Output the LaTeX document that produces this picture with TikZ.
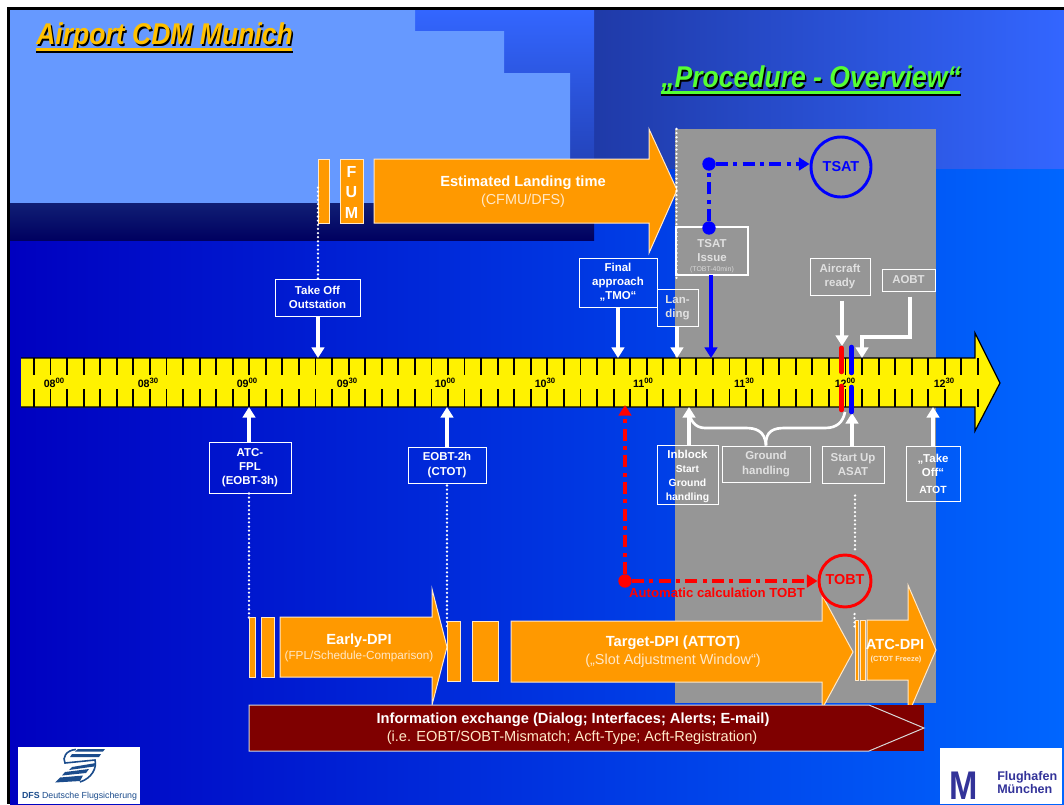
\documentclass[tikz,border=0pt]{standalone}
\usepackage{fontspec}
\setmainfont{Liberation Sans}
\usetikzlibrary{arrows.meta}
\usetikzlibrary{calc}
\definecolor{lightsky}{HTML}{6699FF}
\definecolor{midblue}{HTML}{3366FF}
\definecolor{duskblue}{HTML}{1F3AA8}
\definecolor{bandtop}{HTML}{101F75}
\definecolor{bandbottom}{HTML}{000060}
\definecolor{bgleft}{HTML}{0000C0}
\definecolor{bgright}{HTML}{0066FF}
\definecolor{orangedpi}{HTML}{FF9900}
\definecolor{palecream}{HTML}{FFE8C8}
\definecolor{panelgrey}{HTML}{969696}
\definecolor{infored}{HTML}{7F0000}
\definecolor{titlegold}{HTML}{FFC000}
\definecolor{titlegreen}{HTML}{55FF33}
\definecolor{dfsblue}{HTML}{1B4C8C}
\definecolor{mucblue}{HTML}{333399}
\newcommand{\hourmark}[2]{#1\raisebox{2.8pt}{\fontsize{5.8}{6}\selectfont #2}}
\newcommand{\titletext}[1]{\scalebox{0.885}[1]{#1}}
\begin{document}
\begin{tikzpicture}[x=0.75pt,y=-0.75pt,>={Triangle[length=8pt,width=9.5pt]}]
\tikzstyle{wh} = [minimum width=#1*0.75pt]
\tikzstyle{ht} = [minimum height=#1*0.75pt]
\tikzstyle{tagbox} = [draw=white,line width=0.75pt,align=center,text=white,inner sep=0pt,font=\bfseries\fontsize{8.6}{10.6}\selectfont]
\tikzstyle{greytext} = [text=white!88!black]
\tikzstyle{oarrow} = [fill=orangedpi,draw=palecream,line width=0.75pt]
\tikzstyle{obar} = [oarrow]
\tikzstyle{bigtext} = [text=white,inner sep=0pt,align=center,font=\bfseries\fontsize{11}{13}\selectfont]
\tikzstyle{subtext} = [text=palecream,inner sep=0pt,align=center,font=\fontsize{10.8}{13}\selectfont]
\tikzstyle{titlefont} = [anchor=west,inner sep=0pt,font=\bfseries\itshape\fontsize{22.5}{26}\selectfont]
\tikzstyle{wline} = [white,line width=2.4pt]
\tikzstyle{warrow} = [wline,->]
\tikzstyle{dots} = [white,line width=1.9pt,line cap=round,dash pattern=on 0pt off 3.1pt]
\tikzstyle{dashdot} = [line width=2.6pt,dash pattern=on 9pt off 4pt on 3pt off 4pt]
\tikzstyle{spot} = [circle,fill,minimum size=10pt,inner sep=0pt]
\tikzstyle{ring} = [draw,circle,line width=2.2pt,inner sep=0pt,font=\bfseries\fontsize{10.8}{12}\selectfont]
\tikzstyle{rule} = [black,line width=1.4pt]
\tikzstyle{stripe} = [red,line width=3.4pt,line cap=round]

\fill[white] (0,0) rectangle (1064,804);
\fill[black] (7,7) rectangle (1064,804);
\shade[left color=bgleft,right color=bgright] (10,10) rectangle (1064,804);
\shade[left color=duskblue,right color=midblue] (594,10) rectangle (1064,168);
\shade[top color=midblue,bottom color=duskblue] (415,10) rectangle (594,203);
\fill[lightsky] (10,10) -- (415,10) -- (415,31) -- (504,31) -- (504,73) -- (570,73) -- (570,203) -- (10,203) -- cycle;
\shade[top color=bandtop,bottom color=bandbottom] (10,203) rectangle (594,240);
\fill[panelgrey] (675,129) rectangle (936,703);

\draw(37.5,38.5) node[titlefont,black] (titleshadow) {\titletext{Airport CDM Munich}};
\draw(36,37) node[titlefont,titlegold] (titlecdm) {\titletext{Airport CDM Munich}};
\fill[black] (36,51) rectangle (293,52.5);
\fill[titlegold] (36,48) rectangle (292,51);
\draw(662.5,80.5) node[titlefont,black] (procshadow) {\titletext{„Procedure - Overview“}};
\draw(661,79) node[titlefont,titlegreen] (titleproc) {\titletext{„Procedure - Overview“}};
\fill[black] (661,94) rectangle (961,95.5);
\fill[titlegreen] (661,91) rectangle (960,94);

\draw[obar] (318,159) rectangle (329,223);
\draw[obar] (340,159) rectangle (363,223);
\draw(351.5,172) node[bigtext,font=\bfseries\fontsize{12}{14}\selectfont] (fumf) {F};
\draw(351.5,192) node[bigtext,font=\bfseries\fontsize{12}{14}\selectfont] (fumu) {U};
\draw(351.5,213) node[bigtext,font=\bfseries\fontsize{12}{14}\selectfont] (fumm) {M};
\draw[oarrow] (374,159) -- (649,159) -- (649,129) -- (677,190) -- (649,253) -- (649,223) -- (374,223) -- cycle;
\draw(523,183) node[bigtext] (landtext) {Estimated Landing time};
\draw(523,201) node[subtext] (landsub) {(CFMU/DFS)};

\draw[dots] (676.5,129) -- (676.5,281);

\draw[black,fill=yellow,line width=0.9pt] (21,358) -- (975,358) -- (975,333) -- (1000,383) -- (975,431) -- (975,407) -- (21,407);
\foreach \k in {0,...,57}
{
\draw[rule] ({34+16.56*\k},358) -- ({34+16.56*\k},375);
\draw[rule] ({34+16.56*\k},389) -- ({34+16.56*\k},407);
}
\foreach \xpos/\hh/\mm in {54/08/00,148/08/30,247/09/00,347/09/30,445/10/00,545/10/30,643/11/00,744/11/30,845/12/00,944/12/30}
\draw(\xpos,383) node[black,inner sep=0pt,font=\bfseries\fontsize{8}{9}\selectfont] (hour\hh\mm) {\hourmark{\hh}{\mm}};

\draw(317.5,297.5) node[tagbox,wh=85,ht=37] (btakeoff) {Take Off\\Outstation};
\draw(618,282.5) node[tagbox,wh=78,ht=49] (bfinal) {Final\\approach\\„TMO“};
\draw(677.5,307.5) node[tagbox,wh=41,ht=37,greytext] (bland) {Lan-\\ding};
\draw(712,251) node[tagbox,wh=72,ht=48,line width=2.2pt,greytext] (btsat) {\rule{0pt}{14pt}TSAT\\Issue\\[-3pt]{\fontsize{5.2}{6}\mdseries\selectfont\textcolor{white!85!black}{(TOBT-40min)}}};
\draw(840,276.5) node[tagbox,wh=60,ht=37,greytext] (bready) {Aircraft\\ready};
\draw(908.5,280) node[tagbox,wh=53,ht=22,greytext] (baobt) {AOBT};
\draw(250,467.5) node[tagbox,wh=82,ht=51] (bfpl) {ATC-\\FPL\\(EOBT-3h)};
\draw(447,465) node[tagbox,wh=78,ht=36] (beobt) {EOBT-2h\\(CTOT)};
\draw(687.5,474.5) node[tagbox,wh=61,ht=59] (binblock) {\rule{0pt}{9pt}Inblock\\{\fontsize{7.6}{9.4}\selectfont Start}\\{\fontsize{7.8}{9.4}\selectfont Ground}\\{\fontsize{7.8}{9.4}\selectfont handling}};
\draw(766,464) node[tagbox,wh=88,ht=36,greytext] (bground) {Ground\\handling};
\draw(853,464.5) node[tagbox,wh=62,ht=37,greytext] (bstart) {Start Up\\ASAT};
\draw(933,473.5) node[tagbox,wh=54,ht=55] (bato) {„Take\\Off“\\[2pt]{\fontsize{7.8}{9.6}\selectfont ATOT}};

\coordinate (ctakeoff) at (318,358);
\coordinate (ctakedot) at (318,187);
\coordinate (cfinal) at (618,358);
\coordinate (cland) at (677,358);
\coordinate (ctsat) at (711,358);
\coordinate (cready) at (842,346);
\coordinate (caobta) at (910,337);
\coordinate (caobtc) at (862,358);
\coordinate (cfpl) at (249,407);
\coordinate (cfpldot) at (249,620);
\coordinate (ceobt) at (447,407);
\coordinate (ceobtdot) at (447,628);
\coordinate (cinblock) at (689,407);
\coordinate (cstart) at (852,413);
\coordinate (cato) at (933,407);
\coordinate (cbracea) at (689,412);
\coordinate (cbraceb) at (845,412);
\coordinate (cstartdot) at (855,553);
\coordinate (cfreeze) at (854.5,628);
\coordinate (cfreezetop) at (854.5,614);

\draw[warrow] (btakeoff.south -| ctakeoff) -- (ctakeoff);
\draw[dots] (btakeoff.north -| ctakedot) -- (ctakedot);
\draw[warrow] (bfinal.south -| cfinal) -- (cfinal);
\draw[warrow] (bland.south -| cland) -- (cland);
\draw[warrow] (bready.south -| cready) ++(0,5) -- (cready);
\draw[warrow] (baobt.south -| caobta) ++(0,5) -- (caobta) -| (caobtc);
\draw[warrow] (bfpl.north -| cfpl) -- (cfpl);
\draw[dots] (bfpl.south -| cfpldot) -- (cfpldot);
\draw[warrow] (beobt.north -| ceobt) -- (ceobt);
\draw[dots] (beobt.south -| ceobtdot) ++(0,2) -- (ceobtdot);
\draw[warrow] (binblock.north -| cinblock) -- (cinblock);
\draw[warrow] (bstart.north -| cstart) -- (cstart);
\draw[dots] (bstart.south -| cstartdot) ++(0,12) -- (cstartdot);
\draw[warrow] (bato.north -| cato) -- (cato);
\draw[white,line width=2pt] (bground.north) .. controls (765,430) and (775,428) .. (785,428) -- (825,428) .. controls (837,428) and (843,422) .. (cbraceb);
\draw[white,line width=2pt] (bground.north) .. controls (765,430) and (755,428) .. (745,428) -- (705,428) .. controls (695,428) and (690,420) .. (cbracea);

\draw[stripe] (841.5,348) -- (841.5,372);
\draw[stripe] (841.5,386) -- (841.5,410);
\draw[stripe,blue] (851.5,347) -- (851.5,373);
\draw[stripe,blue] (851.5,387) -- (851.5,412);

\draw(841,167) node[ring,blue,minimum size=45pt] (rtsat) {TSAT};
\draw(709,164) node[spot,blue] (dtsata) {};
\draw(709,228) node[spot,blue] (dtsatb) {};
\draw[blue,dashdot] (dtsatb) -- (dtsata);
\draw[blue,dashdot,->] (dtsata) -- (rtsat.west |- dtsata);
\coordinate (ctsatbox) at (711,275);
\draw[blue,line width=2.4pt,->] (ctsatbox) -- (ctsat);

\draw[obar] (249,617) rectangle (255.5,677);
\draw[obar] (261,617) rectangle (274,677);
\draw[oarrow] (280,617) -- (432,617) -- (432,589) -- (447,647) -- (432,705) -- (432,677) -- (280,677) -- cycle;
\draw(359,641) node[bigtext] (earlytext) {Early-DPI};
\draw(359,656) node[subtext,font=\fontsize{8.8}{10}\selectfont] (earlysub) {(FPL/Schedule-Comparison)};
\draw[obar] (447,621) rectangle (460,681);
\draw[obar] (472,621) rectangle (498,681);
\draw[oarrow] (511,621) -- (822,621) -- (822,595) -- (853,652) -- (822,709) -- (822,682) -- (511,682) -- cycle;
\draw(673,643) node[bigtext] (targettext) {Target-DPI (ATTOT)};
\draw(673,661) node[subtext] (targetsub) {(„Slot Adjustment Window“)};
\draw[obar] (855,620) rectangle (858,680);
\draw[obar] (860,620) rectangle (865,680);
\draw[oarrow] (867,620) -- (908,620) -- (908,585) -- (936,650) -- (908,715) -- (908,680) -- (867,680) -- cycle;
\draw(895,644) node[bigtext] (atctext) {ATC-DPI};
\draw(896,660) node[subtext,font=\bfseries\fontsize{5.6}{7}\selectfont] (atcsub) {(CTOT Freeze)};
\draw[dots] (cfreezetop) -- (cfreeze);

\draw(845,581) node[ring,red,minimum size=39pt] (rtobt) {\raisebox{3pt}{TOBT}};
\draw(625,581) node[spot,red] (dtobt) {};
\coordinate (ctobtup) at (625,405);
\draw[red,dashdot,->] (dtobt) -- (ctobtup);
\draw[red,dashdot,->] (dtobt) -- (rtobt.west);
\draw(717,593) node[red,inner sep=0pt,font=\bfseries\fontsize{9.85}{11}\selectfont] (tobttext) {Automatic calculation TOBT};

\fill[infored] (249,705) rectangle (924,751);
\draw[white!85!black,line width=0.75pt] (249,705) -- (869,705) -- (924,728) -- (869,751) -- (249,751) -- cycle;
\draw(573,720) node[bigtext,font=\bfseries\fontsize{11}{13}\selectfont] (infotext) {Information exchange (Dialog; Interfaces; Alerts; E-mail)};
\draw(572,738) node[subtext,font=\fontsize{10.95}{13}\selectfont] (infosub) {(i.e. EOBT/SOBT-Mismatch; Acft-Type; Acft-Registration)};

\fill[white] (18,747) rectangle (140,804);
\fill[dfsblue] (78,749) -- (105,749) -- (103,751.5) -- (75,751.5) -- cycle;
\fill[dfsblue] (72,754) -- (101,754) -- (99,757) -- (70,757) -- cycle;
\fill[dfsblue] (72,767) -- (96,763) -- (94,766.5) -- (69,770) -- cycle;
\fill[dfsblue] (65,772) -- (89,769) -- (86,773) -- (62,775.5) -- cycle;
\fill[dfsblue] (60,777.5) -- (83,775.5) -- (80,781) -- (55,782.5) -- cycle;
\draw[dfsblue,line width=1.2pt] (76,749.5) .. controls (66,750) and (62,758) .. (65,763) -- (95,760) .. controls (97,768) and (92,778) .. (80,782);
\draw(79.5,796) node[dfsblue,inner sep=0pt,font=\fontsize{6.6}{8}\selectfont] (dfstext) {\textbf{DFS} Deutsche Flugsicherung};

\fill[white] (940,748) rectangle (1062,804);
\draw(963.5,799.5) node[mucblue,inner sep=0pt,font=\bfseries\fontsize{30}{30}\selectfont] (mucm) {\scalebox{0.85}[1]{\smash{M}}};
\draw(997,782.5) node[anchor=west,mucblue,align=left,inner sep=0pt,font=\bfseries\fontsize{9.4}{9.6}\selectfont] (muctext) {Flughafen\\München};

\useasboundingbox (0,0) rectangle (1064,804);
\end{tikzpicture}
\end{document}
